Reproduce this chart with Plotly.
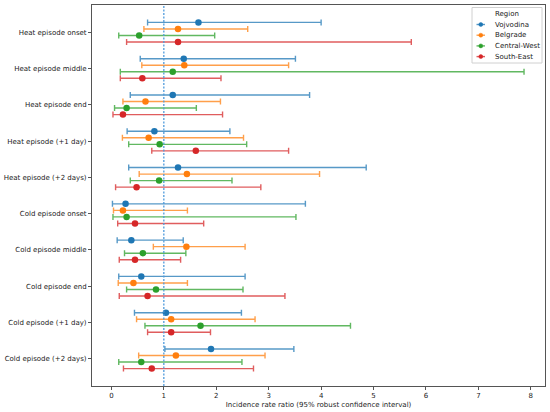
import plotly.graph_objects as go

# episode categories, top to bottom
EPISODES = [
    "Heat episode onset",
    "Heat episode middle",
    "Heat episode end",
    "Heat episode (+1 day)",
    "Heat episode (+2 days)",
    "Cold episode onset",
    "Cold episode middle",
    "Cold episode end",
    "Cold episode (+1 day)",
    "Cold episode (+2 days)",
]
REGIONS = ["Vojvodina", "Belgrade", "Central-West", "South-East"]

# incidence rate ratio estimates per region (same order as EPISODES)
vojvodina_irr = [1.66, 1.38, 1.17, 0.82, 1.27, 0.27, 0.38, 0.57, 1.04, 1.90]
vojvodina_lo = [0.69, 0.55, 0.36, 0.30, 0.33, 0.02, 0.11, 0.14, 0.44, 1.02]
vojvodina_hi = [4.00, 3.51, 3.78, 2.26, 4.86, 3.70, 1.37, 2.55, 2.48, 3.48]

belgrade_irr = [1.27, 1.39, 0.65, 0.71, 1.44, 0.22, 1.43, 0.42, 1.14, 1.23]
belgrade_lo = [0.62, 0.58, 0.22, 0.21, 0.53, 0.04, 0.80, 0.13, 0.48, 0.52]
belgrade_hi = [2.60, 3.38, 2.08, 2.52, 3.97, 1.45, 2.55, 1.45, 2.74, 2.93]

central_west_irr = [0.53, 1.17, 0.29, 0.92, 0.91, 0.29, 0.60, 0.85, 1.70, 0.57]
central_west_lo = [0.14, 0.17, 0.06, 0.33, 0.36, 0.03, 0.25, 0.29, 0.64, 0.14]
central_west_hi = [1.97, 7.87, 1.62, 2.58, 2.30, 3.52, 1.42, 2.51, 4.56, 2.49]

south_east_irr = [1.27, 0.59, 0.22, 1.61, 0.48, 0.45, 0.45, 0.69, 1.14, 0.77]
south_east_lo = [0.29, 0.17, 0.03, 0.77, 0.08, 0.12, 0.15, 0.15, 0.69, 0.23]
south_east_hi = [5.72, 2.09, 2.12, 3.38, 2.85, 1.76, 1.32, 3.31, 1.89, 2.71]

SERIES = [
    (vojvodina_irr, vojvodina_lo, vojvodina_hi),
    (belgrade_irr, belgrade_lo, belgrade_hi),
    (central_west_irr, central_west_lo, central_west_hi),
    (south_east_irr, south_east_lo, south_east_hi),
]
COLORS = ["#1f77b4", "#ff7f0e", "#2ca02c", "#d62728"]
OFFSETS = [-0.27, -0.09, 0.09, 0.27]
FONT = "DejaVu Sans"

W, H = 550, 412
MARGIN = dict(l=92, r=5, t=5, b=26)


def rgba(hex_color: str, alpha: float) -> str:
    r, g, b = (int(hex_color[i : i + 2], 16) for i in (1, 3, 5))
    return f"rgba({r},{g},{b},{alpha})"


# helpers to place the compact legend in pixel terms (plotly's legend rows are too tall)
def px_x(px: float) -> float:
    return (px - MARGIN["l"]) / (W - MARGIN["l"] - MARGIN["r"])


def px_y(py: float) -> float:
    return 1 - (py - MARGIN["t"]) / (H - MARGIN["t"] - MARGIN["b"])


fig = go.Figure()

for name, (irr, lo, hi), color, off in zip(REGIONS, SERIES, COLORS, OFFSETS):
    fig.add_scatter(
        x=irr,
        y=[i + off for i in range(len(EPISODES))],
        mode="markers",
        name=name,
        showlegend=False,
        marker=dict(color=color, size=6.5),
        error_x=dict(
            type="data",
            symmetric=False,
            array=[h - v for h, v in zip(hi, irr)],
            arrayminus=[v - l for v, l in zip(irr, lo)],
            color=rgba(color, 0.75),
            thickness=1.4,
            width=3,
        ),
    )

# reference line at IRR = 1
fig.add_shape(
    type="line",
    xref="x",
    yref="paper",
    x0=1,
    x1=1,
    y0=0,
    y1=1,
    line_color="#4f9bdc",
    line_width=1.3,
    line_dash="2px,1.5px",
    layer="above",
)

# legend box
fig.add_shape(
    type="rect",
    xref="paper",
    yref="paper",
    x0=px_x(472),
    x1=px_x(542),
    y0=px_y(63),
    y1=px_y(7.5),
    line=dict(color="#d0d0d0", width=1),
    fillcolor="rgba(255,255,255,0.8)",
    layer="above",
)
fig.add_annotation(
    text="Region",
    xref="paper",
    yref="paper",
    x=px_x(507),
    y=px_y(14),
    showarrow=False,
    xanchor="center",
    yanchor="middle",
    font=dict(family=FONT, size=7, color="#222222"),
)
for i, (name, color) in enumerate(zip(REGIONS, COLORS)):
    row_y = 24.5 + i * 10.7
    fig.add_shape(
        type="line",
        xref="paper",
        yref="paper",
        x0=px_x(476.5),
        x1=px_x(485),
        y0=px_y(row_y),
        y1=px_y(row_y),
        line=dict(color=rgba(color, 0.75), width=1.4),
        layer="above",
    )
    fig.add_shape(
        type="circle",
        xref="paper",
        yref="paper",
        x0=px_x(478.8),
        x1=px_x(482.8),
        y0=px_y(row_y + 2),
        y1=px_y(row_y - 2),
        line=dict(color=color, width=0.5),
        fillcolor=color,
        layer="above",
    )
    fig.add_annotation(
        text=name,
        xref="paper",
        yref="paper",
        x=px_x(492.5),
        y=px_y(row_y),
        showarrow=False,
        xanchor="left",
        yanchor="middle",
        font=dict(family=FONT, size=7, color="#222222"),
    )

axis_common = dict(
    showline=True,
    linecolor="#555555",
    linewidth=1,
    mirror=True,
    showgrid=False,
    zeroline=False,
    automargin=False,
    ticks="outside",
    ticklen=3,
    tickcolor="#555555",
    tickfont=dict(family=FONT, size=7, color="#222222"),
)

fig.update_layout(
    width=W,
    height=H,
    margin=MARGIN,
    plot_bgcolor="white",
    paper_bgcolor="white",
    showlegend=False,
    font=dict(family=FONT, size=7, color="#222222"),
    xaxis=dict(
        range=[-0.37, 8.27],
        tickvals=list(range(9)),
        title=dict(
            text="Incidence rate ratio (95% robust confidence interval)",
            font=dict(family=FONT, size=7),
            standoff=2,
        ),
        **axis_common,
    ),
    yaxis=dict(
        range=[9.75, -0.75],
        tickvals=list(range(len(EPISODES))),
        ticktext=EPISODES,
        **axis_common,
    ),
)

# drop the browser's default body margin so the figure sits at the page origin
fig.write_html(
    "out.html",
    config={"displayModeBar": False},
    post_script="document.body.style.margin = '0';",
)
